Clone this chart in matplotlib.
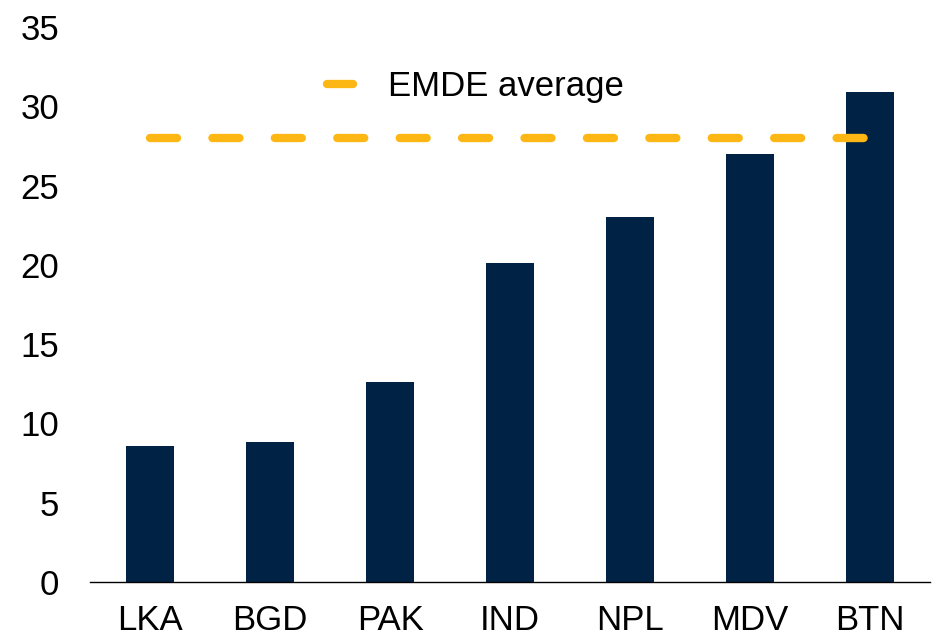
import matplotlib
matplotlib.use("Agg")
import matplotlib.pyplot as plt
import numpy as np

# data
countries = ["LKA", "BGD", "PAK", "IND", "NPL", "MDV", "BTN"]
values = [8.6, 8.8, 12.6, 20.1, 23.0, 27.0, 30.9]
emde_avg = 28.0
yticks = [0, 5, 10, 15, 20, 25, 30, 35]

NAVY = "#002345"
GOLD = "#FDB714"

plt.rcParams["font.family"] = ["Liberation Sans", "DejaVu Sans"]

fig = plt.figure(figsize=(9.34, 6.39), dpi=100)
ax = fig.add_axes([90 / 934, 57 / 639, 840 / 934, 555 / 639])

x = np.arange(len(countries))
ax.bar(x, values, width=0.4, color=NAVY, zorder=2)

# EMDE average as a dashed line across the bars
ax.plot([x[0], x[-1]], [emde_avg, emde_avg], color=GOLD, linewidth=6,
        dashes=(3.24, 4.25), dash_capstyle="round", solid_capstyle="round",
        label="EMDE average", zorder=3)

ax.set_xlim(-0.5, len(countries) - 0.5)
ax.set_ylim(0, 35)
ax.set_yticks(yticks)
ax.set_xticks(x)
ax.set_xticklabels(countries)
ax.tick_params(axis="both", length=0, labelsize=25)
ax.tick_params(axis="y", pad=22)
ax.tick_params(axis="x", pad=16)

for side in ["left", "right", "top"]:
    ax.spines[side].set_visible(False)
ax.spines["bottom"].set_linewidth(1)
ax.spines["bottom"].set_color("black")

ax.legend(loc="center left", bbox_to_anchor=(0.282, 0.893), frameon=False,
          fontsize=25, handlelength=0.75, handletextpad=1.0,
          borderpad=0, borderaxespad=0)

fig.savefig("out.png", dpi=100)
